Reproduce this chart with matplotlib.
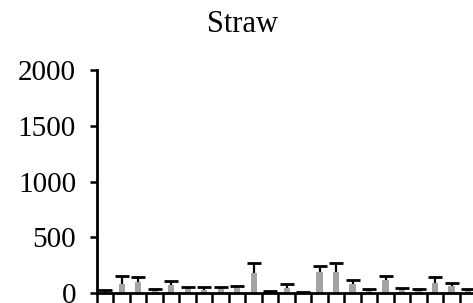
import matplotlib
matplotlib.use("Agg")
from matplotlib import pyplot as plt

# values (bars are cut off at the right edge in the source)
means = [10, 85, 100, 25, 70, 35, 30, 35, 45, 175, 10,
         45, 8, 190, 190, 85, 18, 120, 30, 20, 90, 65, 20]
errors = [15, 70, 40, 15, 35, 20, 20, 22, 18, 90, 5,
          33, 3, 55, 80, 30, 15, 35, 15, 18, 55, 28, 12]
yticks = [0, 500, 1000, 1500, 2000]

plt.rcParams['font.family'] = ['Liberation Serif', 'DejaVu Serif']

fig = plt.figure(figsize=(4.73, 3.03), dpi=100)
ax = fig.add_axes([97 / 473, 10 / 303, 1 - 97 / 473, (293 - 70) / 303])

x = list(range(len(means)))
ax.bar(x, means, 0.38, color='#a3a3a3', zorder=2)
_, caps, _ = ax.errorbar(x, means, yerr=[[0] * len(errors), errors], fmt='none',
                         ecolor='black', elinewidth=1.6, capsize=5, capthick=2,
                         zorder=3)
caps[0].set_visible(False)  # only upper caps

ax.set_xlim(-0.5, 22.3)
ax.set_ylim(0, 2000)
ax.set_yticks(yticks)
ax.set_yticklabels([str(t) for t in yticks], fontsize=21)
ax.set_xticks([i - 0.5 for i in range(len(means))])
ax.set_xticklabels([])

for side in ['top', 'right']:
    ax.spines[side].set_visible(False)
for side in ['left', 'bottom']:
    ax.spines[side].set_linewidth(2)
ax.tick_params(axis='y', length=5, width=1.8, pad=10)
ax.tick_params(axis='x', length=7, width=1.8)

fig.text(242 / 473, 1 - 25 / 303, "Straw", ha='center', va='center', fontsize=22)

fig.savefig("out.png", dpi=100)
